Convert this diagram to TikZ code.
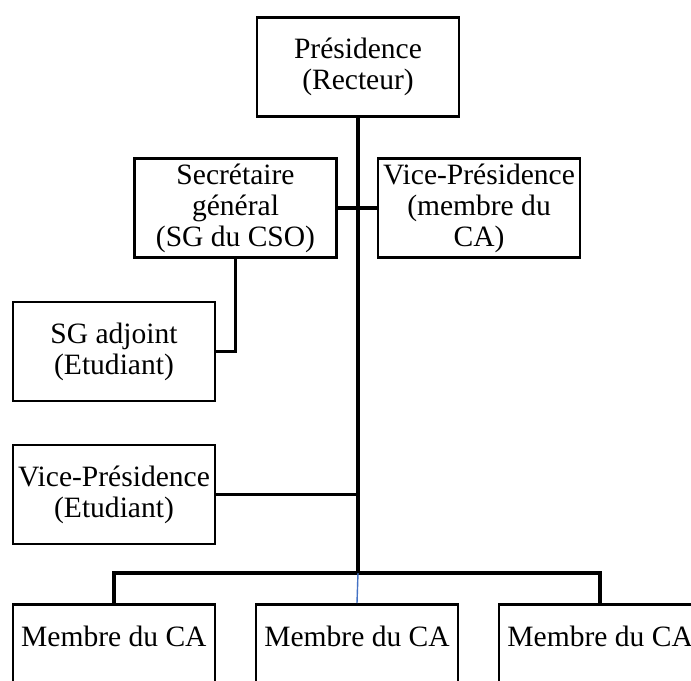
\documentclass[tikz,border=0pt]{standalone}
\usepackage{fontspec}
\setmainfont{Liberation Serif}
\usetikzlibrary{calc,positioning}

\definecolor{dropblue}{RGB}{68,114,196}

\begin{document}
\begin{tikzpicture}[x=0.025cm, y=-0.025cm, node distance=0.96cm,
	box/.style={draw, line width=1.9pt, minimum width=5.05cm, minimum height=2.47cm,
		inner sep=0pt, align=center, font=\fontsize{21pt}{22pt}\selectfont},
	member/.style={box, minimum height=3.3cm, text depth=1.7cm},
	link/.style={line width=2.6pt},
	drop/.style={line width=1pt, draw=dropblue}]
	\useasboundingbox (0,0) rectangle (691,680);
	\clip (0,0) rectangle (691,680);

	\node[box] (pres) at (358,67) {Présidence\\(Recteur)};
	\node[box] (sg) at (235.5,208) {Secrétaire\\général\\(SG du CSO)};
	\node[box] (vpca) at (479,208) {Vice-Présidence\\(membre du\\CA)};
	\node[box] (sgadj) at (114,351.5) {SG adjoint\\(Etudiant)};
	\node[box] (vpetu) at (114,494.5) {Vice-Présidence\\(Etudiant)};
	\node[member, anchor=north] (m2) at (357,603) {Membre du CA};
	\node[member, left=of m2] (m1) {Membre du CA};
	\node[member, right=of m2] (m3) {Membre du CA};
	\coordinate (bus) at (pres.south |- 0,573);

	\draw[link] (pres.south) -- (bus);
	\draw[link] (sg.east) -- (vpca.west);
	\draw[link] (sg.south) |- (sgadj.east);
	\draw[link] (vpetu.east) -- (vpetu.east -| bus);
	\draw[link] (m1.north) |- (bus) -| (m3.north);
	\draw[drop] (bus) -- (m2.north);
\end{tikzpicture}
\end{document}
